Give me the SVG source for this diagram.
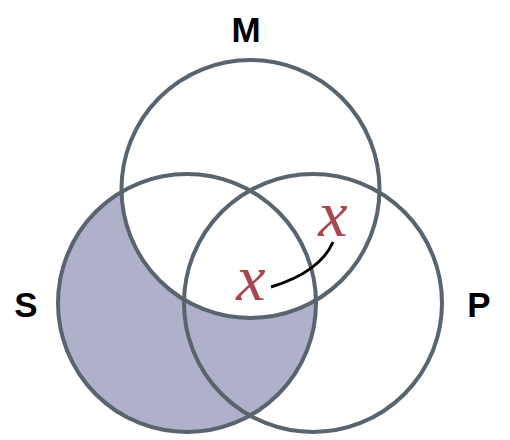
<svg xmlns="http://www.w3.org/2000/svg" width="510" height="440" viewBox="0 0 510 440">
<style>
.c{fill:none;stroke:#5a646e;stroke-width:4}
.lbl{font-family:"Liberation Sans",Arial,sans-serif;font-weight:bold;font-size:35px;fill:#000;text-anchor:middle}
.x{font-family:"Liberation Serif","Times New Roman",serif;font-style:italic;font-size:66px;fill:#a8474f;text-anchor:middle}
</style>
<defs>
<clipPath id="outM"><path d="M0,0H510V440H0Z M250.5,60 A129,129 0 1 0 250.5,318 A129,129 0 1 0 250.5,60Z" clip-rule="evenodd"/></clipPath>
</defs>
<rect width="510" height="440" fill="#fff"/>
<g id="shade">
<circle cx="187" cy="303" r="129" fill="#aeb1c9" clip-path="url(#outM)"/>
</g>
<g id="M"><circle class="c" cx="250.5" cy="189" r="129"/><text class="lbl" x="246" y="42">M</text></g>
<g id="S"><circle class="c" cx="187" cy="303" r="129"/><text class="lbl" x="26" y="317">S</text></g>
<g id="P"><circle class="c" cx="313" cy="303" r="129"/><text class="lbl" x="479" y="317">P</text></g>
<g id="x1"><text class="x" x="251" y="300">x</text></g>
<g id="x2"><text class="x" x="333" y="236">x</text></g>
<g id="connectors"><path d="M271,287 Q320,272 333,242" fill="none" stroke="#000" stroke-width="3"/></g>
</svg>
